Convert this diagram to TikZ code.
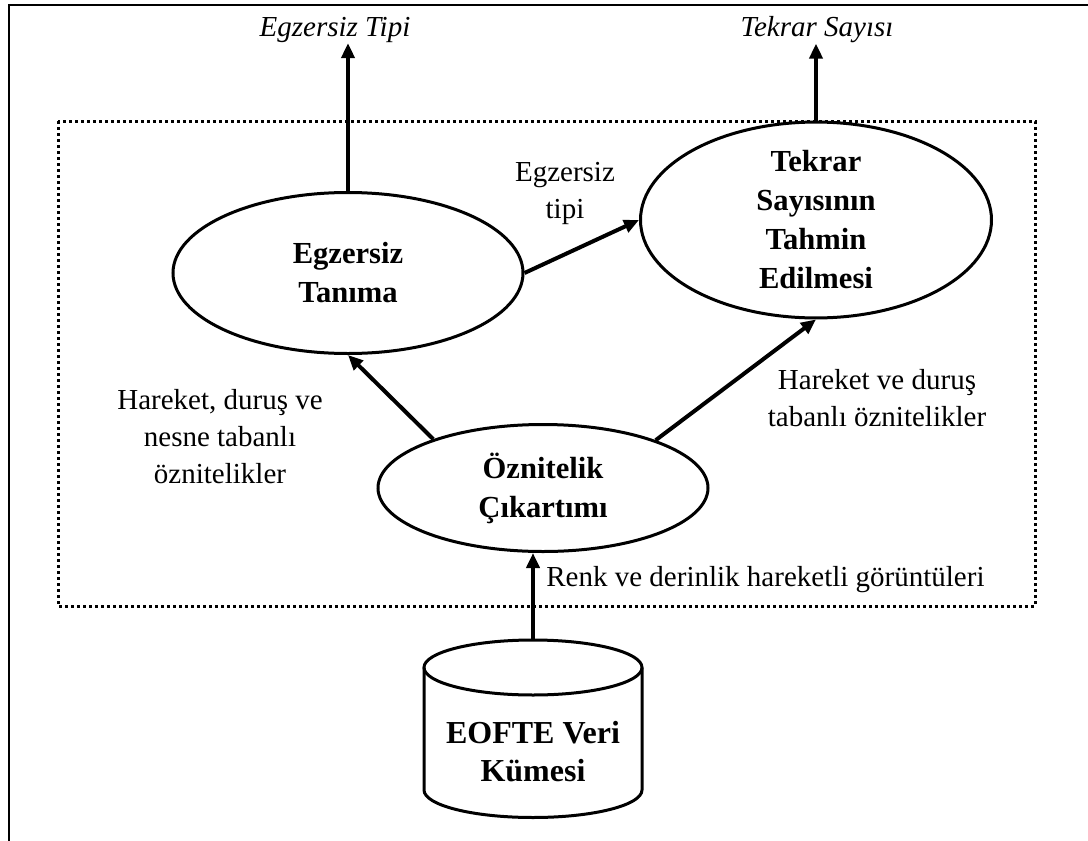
\documentclass[tikz,border=0pt]{standalone}
\usepackage{fontspec}
\setmainfont{Liberation Serif}
\usetikzlibrary{shapes.geometric,arrows.meta}

\begin{document}
\begin{tikzpicture}[x=0.5pt,y=-0.5pt,
    every node/.style={font=\fontsize{14.5}{18.5}\selectfont},
    proc/.style={shape=ellipse,draw=black,line width=1.5pt,inner sep=0pt,align=center,font=\fontsize{15.3}{19.5}\selectfont\bfseries},
    lbl/.style={align=center,inner sep=0pt},
    arr/.style={line width=2pt,-{Triangle[length=7.5pt,width=6.5pt]}},
    dotbox/.style={line width=1.5pt,dash pattern=on 1.5pt off 1.5pt}]
        \useasboundingbox (0,0) rectangle (1088,841);
        \draw[line width=1.3pt] (9,841) -- (9,5) -- (1088,5);
        \draw[dotbox] (58,121) rectangle (1035,606);
        \node[proc,minimum width=175pt,minimum height=80.5pt] (tanima) at (348,273){Egzersiz\\Tanıma};
        \node[proc,minimum width=175.5pt,minimum height=82.5pt] (tahmin) at (816,220){Tekrar\\Sayısının\\Tahmin\\Edilmesi};
        \node[proc,minimum width=165pt,minimum height=63.5pt] (cikarim) at (543,488){Öznitelik\\Çıkartımı};
        % veri kumesi (cylinder)
        \draw[line width=1.5pt] (424,667.5) -- (424,790) arc[start angle=180,end angle=360,x radius=54.5pt,y radius=13.75pt] -- (642,667.5);
        \draw[line width=1.5pt] (533,667.5) ellipse [x radius=54.5pt,y radius=13.75pt];
        \coordinate (vtop) at (533,640);
        \node[lbl,font=\fontsize{16}{19}\selectfont\bfseries] (veri) at (533,752){EOFTE Veri\\Kümesi};
        \node[lbl,font=\fontsize{14.5}{18.5}\selectfont\itshape] (tipi) at (335,30){Egzersiz Tipi};
        \node[lbl,font=\fontsize{14.5}{18.5}\selectfont\itshape] (sayi) at (817,30){Tekrar Sayısı};
        \node[lbl] (l1) at (565,193){Egzersiz\\tipi};
        \node[lbl] (l2) at (220,437){Hareket, duruş ve\\nesne tabanlı\\öznitelikler};
        \node[lbl] (l3) at (877,398){Hareket ve duruş\\tabanlı öznitelikler};
        \node[lbl,anchor=west] (l4) at (546,580){Renk ve derinlik hareketli görüntüleri};
        \path [arr](tanima.north) edge (tanima.north |- tipi.south);
        \path [arr](tahmin.north) edge (tahmin.north |- sayi.south);
        \path [arr](tanima.east) edge (tahmin.west);
        \path [arr](cikarim.156) edge (tanima.south);
        \path [arr](cikarim.23) edge (tahmin.south);
        \path [arr](vtop) edge (vtop |- cikarim.south);
    \end{tikzpicture}
\end{document}
